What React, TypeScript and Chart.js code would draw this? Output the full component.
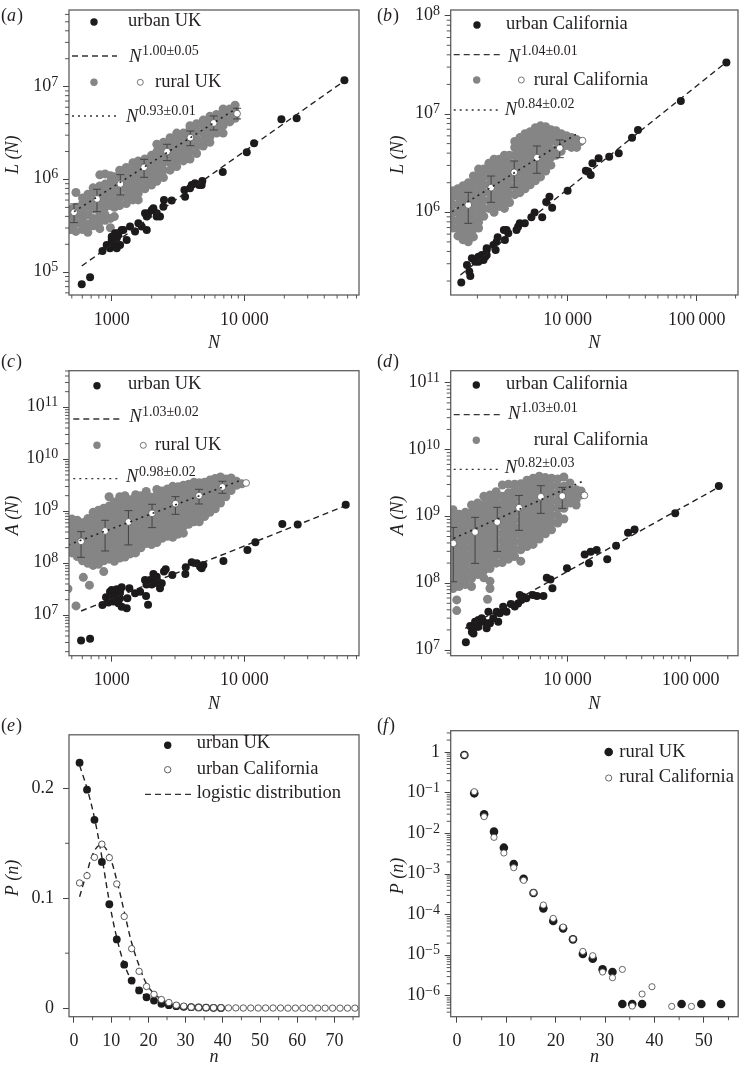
import React, { useEffect, useRef } from "react";
import { Chart, registerables } from "chart.js";

Chart.register(...registerables);

const SERIF = "'Liberation Serif', 'Times New Roman', serif";
const INK = "#231f20";
const GREY = "#858585";

// ---------- panel (a): L(N), UK. All N / L values are log10 of the value.
const aUrbanLogN = [2.774,2.837,2.93,2.962,2.987,3.0,3.025,3.05,3.013,3.038,3.063,3.075,3.113,3.138,3.176,3.201,3.226,3.264,3.251,3.276,3.314,3.339,3.364,3.389,3.394,3.452,3.553,3.548,3.59,3.628,3.678,3.683,3.837,4.018,4.073,4.279,4.394,4.754,3.043,3.025,3.088,3.0,3.038,3.302,3.264,3.339,3.603,3.658];
const aUrbanLogL = [4.871,4.946,5.23,5.294,5.259,5.384,5.42,5.402,5.33,5.366,5.294,5.456,5.348,5.492,5.438,5.528,5.492,5.456,5.636,5.636,5.689,5.636,5.6,5.707,5.779,5.772,5.815,5.887,5.905,5.959,5.941,5.984,6.081,6.293,6.39,6.648,6.659,7.068,5.42,5.28,5.456,5.348,5.26,5.67,5.6,5.6,5.941,5.941];
const aRural: [number, number[]][] = [
  [2.69,[5.46,5.52,5.60,5.68]],[2.73,[5.44,5.53,5.62,5.70,5.86]],[2.78,[5.46,5.5,5.58,5.66,5.74,5.8]],
  [2.82,[5.43,5.52,5.62,5.71,5.78,5.84]],[2.86,[5.50,5.58,5.68,5.76,5.85,5.91]],[2.91,[5.47,5.55,5.63,5.72,5.80,5.88,5.93,6.05]],
  [2.95,[5.56,5.62,5.70,5.78,5.86,5.95,6.06]],[2.99,[5.48,5.58,5.72,5.80,5.88,5.97,6.04]],[3.02,[5.60,5.7,5.78,5.87,5.95,6.03]],
  [3.06,[5.72,5.80,5.88,5.96,6.04,6.10]],[3.11,[5.74,5.82,5.9,5.98,6.06,6.13]],[3.16,[5.78,5.86,5.94,6.02,6.1,6.18]],
  [3.2,[5.78,5.85,5.93,6.01,6.09,6.17,6.2]],[3.25,[5.9,5.98,6.06,6.14,6.22]],[3.3,[5.94,6.02,6.1,6.18,6.26]],
  [3.34,[5.98,6.06,6.14,6.22,6.3,6.38]],[3.39,[6.02,6.1,6.18,6.26,6.34,6.4]],[3.44,[6.1,6.18,6.26,6.34,6.42,6.45]],
  [3.49,[6.14,6.22,6.3,6.38,6.46,6.5]],[3.54,[6.2,6.26,6.34,6.42,6.5]],[3.59,[6.22,6.3,6.38,6.46,6.54,6.58]],
  [3.64,[6.28,6.36,6.44,6.52,6.6]],[3.69,[6.36,6.42,6.5,6.58,6.64]],[3.74,[6.4,6.46,6.54,6.62,6.68]],
  [3.79,[6.5,6.55,6.62,6.7]],[3.84,[6.5,6.58,6.65,6.72,6.76]],[3.89,[6.62,6.7,6.76]],[3.93,[6.66,6.73,6.8]],
];
const aMeanLogN = [2.716,2.889,3.065,3.244,3.417,3.593,3.769,3.945];
const aMeanLogL = [5.646,5.79,5.952,6.131,6.3,6.451,6.609,6.709];
const aErrLow = [5.535,5.653,5.833,6.023,6.203,6.364,6.533,6.652];
const aErrHigh = [5.736,5.894,6.052,6.217,6.379,6.522,6.684,6.767];
const aUrbanFit = { logN: [2.774,4.746], logY: [5.068,7.054] };
const aRuralFit = { logN: [2.716,3.942], logY: [5.653,6.767] };

// ---------- panel (b): L(N), California
const bUrbanLogN = [3.176,3.22,3.238,3.246,3.258,3.284,3.309,3.335,3.361,3.373,3.348,3.425,3.458,3.442,3.514,3.54,3.506,3.604,3.629,3.616,3.668,3.719,3.744,3.803,3.834,3.859,3.88,4.0,4.141,4.159,4.179,4.192,4.24,4.322,4.396,4.499,4.545,4.877,5.23,3.373,3.309,3.373,3.527,3.45];
const bUrbanLogL = [5.285,5.464,5.397,5.353,5.532,5.498,5.549,5.566,5.549,5.617,5.515,5.668,5.746,5.617,5.719,5.786,5.82,5.82,5.888,5.854,5.888,5.949,5.997,5.949,6.105,6.159,6.047,6.22,6.424,6.414,6.38,6.498,6.549,6.566,6.6,6.759,6.837,7.132,7.525,5.566,5.498,5.634,5.82,5.7];
const bRural: [number, number[]][] = [
  [3.11,[5.84,5.92,6.0,6.08,6.16,6.22]],[3.15,[5.76,5.84,5.92,6.0,6.08,6.16,6.24]],[3.19,[5.72,5.80,5.88,5.96,6.04,6.12,6.2,6.27]],
  [3.23,[5.70,5.78,5.86,5.94,6.02,6.1,6.18,6.26,6.3]],[3.27,[5.75,5.83,5.91,5.99,6.07,6.15,6.23,6.31,6.37]],[3.31,[5.84,5.9,5.98,6.06,6.14,6.22,6.3,6.38,6.44]],
  [3.35,[5.96,6.04,6.12,6.2,6.28,6.36,6.44]],[3.39,[6.04,6.12,6.2,6.28,6.36,6.44,6.5]],[3.43,[6.0,6.08,6.16,6.24,6.32,6.4,6.48,6.54]],
  [3.47,[6.06,6.14,6.22,6.3,6.38,6.46,6.54]],[3.51,[6.04,6.12,6.2,6.28,6.36,6.44,6.52,6.58]],[3.55,[6.1,6.18,6.26,6.34,6.42,6.5,6.58]],
  [3.59,[6.18,6.26,6.34,6.42,6.5,6.58,6.66,6.72]],[3.63,[6.2,6.28,6.36,6.44,6.52,6.6,6.68,6.76]],[3.67,[6.24,6.32,6.4,6.48,6.56,6.64,6.72,6.8]],
  [3.71,[6.28,6.36,6.44,6.52,6.6,6.68,6.76,6.82]],[3.75,[6.32,6.4,6.48,6.56,6.64,6.72,6.8,6.86]],[3.79,[6.36,6.44,6.52,6.6,6.68,6.76,6.84,6.88]],
  [3.83,[6.42,6.5,6.58,6.66,6.74,6.82,6.87]],[3.87,[6.48,6.56,6.64,6.72,6.8,6.84]],[3.91,[6.58,6.64,6.72,6.78,6.83]],
  [3.95,[6.62,6.7,6.76,6.8]],[3.99,[6.68,6.74,6.78]],[4.03,[6.66,6.72,6.76]],[4.07,[6.66,6.74]],[4.1,[6.72]],
];
const bMeanLogN = [3.23,3.407,3.586,3.762,3.939,4.115];
const bMeanLogL = [6.075,6.251,6.407,6.556,6.654,6.729];
const bErrLow = [5.888,6.102,6.254,6.397,6.556];
const bErrHigh = [6.203,6.369,6.522,6.675,6.736];
const bUrbanFit = { logN: [3.169,5.228], logY: [5.363,7.525] };
const bRuralFit = { logN: [3.105,4.09], logY: [6.007,6.814] };

// ---------- panel (c): A(N), UK
const cUrbanLogN = [2.769,2.837,2.93,2.957,2.975,3,3.013,3.025,3.038,3.05,3.075,3.063,3.113,3.118,3.133,3.176,3.214,3.259,3.274,3.251,3.276,3.314,3.339,3.364,3.394,3.407,3.457,3.558,3.555,3.603,3.641,3.678,3.691,3.842,4.023,4.083,4.286,4.402,4.764,3.262,3.289,3.302,3.327,2.987,3.038,3.013,3.063,3.075,3.339,3.377,3.666];
const cUrbanLogA = [6.513,6.551,7.199,7.346,7.244,7.487,7.263,7.391,7.5,7.231,7.538,7.327,7.135,7.327,7.519,7.423,7.455,7.372,7.205,7.679,7.615,7.795,7.679,7.519,7.84,7.885,7.776,7.923,7.795,8.019,8.0,7.904,7.968,8.045,8.256,8.404,8.756,8.744,9.128,7.59,7.68,7.59,7.62,7.455,7.3,7.36,7.455,7.165,7.74,7.615,7.936];
const cRural: [number, number[]][] = [
  [2.67,[7.51]],[2.731,[7.18]],[2.786,[7.73]],[2.832,[7.58]],
  [2.70,[8.2,8.33,8.46,8.59,8.72,8.85]],[2.74,[8.13,8.26,8.39,8.52,8.65,8.78,8.83]],[2.78,[8.05,8.18,8.31,8.44,8.57,8.7,8.78]],
  [2.82,[8.0,8.13,8.26,8.39,8.52,8.65,8.78,8.86]],[2.86,[7.96,8.09,8.22,8.35,8.48,8.61,8.74,8.87,8.98]],[2.9,[7.98,8.11,8.24,8.37,8.5,8.63,8.76,8.89,9.02]],
  [2.94,[7.84,8.05,8.18,8.31,8.44,8.57,8.7,8.83,8.96,9.06]],[2.98,[8.08,8.21,8.34,8.47,8.6,8.73,8.86,8.99,9.1,9.28]],[3.02,[8.04,8.17,8.3,8.43,8.56,8.69,8.82,8.95,9.08,9.18]],
  [3.06,[8.1,8.23,8.36,8.49,8.62,8.75,8.88,9.01,9.14,9.28]],[3.1,[8.12,8.25,8.38,8.51,8.64,8.77,8.9,9.03,9.16,9.3]],[3.14,[8.18,8.31,8.44,8.57,8.7,8.83,8.96,9.09,9.22]],
  [3.18,[8.2,8.33,8.46,8.59,8.72,8.85,8.98,9.11,9.24,9.32]],[3.22,[8.3,8.43,8.56,8.69,8.82,8.95,9.08,9.21,9.3]],[3.26,[8.38,8.51,8.64,8.77,8.9,9.03,9.16,9.29,9.38]],
  [3.3,[8.36,8.49,8.62,8.75,8.88,9.01,9.14,9.27]],[3.34,[8.4,8.53,8.66,8.79,8.92,9.05,9.18,9.31,9.42]],[3.38,[8.48,8.61,8.74,8.87,9.0,9.13,9.26,9.39]],
  [3.42,[8.52,8.65,8.78,8.91,9.04,9.17,9.3,9.43]],[3.46,[8.5,8.63,8.76,8.89,9.02,9.15,9.28,9.41,9.48]],[3.5,[8.56,8.69,8.82,8.95,9.08,9.21,9.34,9.47]],
  [3.54,[8.58,8.71,8.84,8.97,9.1,9.23,9.36,9.5]],[3.58,[8.75,8.88,9.01,9.14,9.27,9.4,9.52]],[3.62,[8.8,8.93,9.06,9.19,9.32,9.45,9.56]],
  [3.66,[8.8,8.93,9.06,9.19,9.32,9.45,9.55]],[3.7,[8.9,9.03,9.16,9.29,9.42,9.56]],[3.74,[8.98,9.11,9.24,9.37,9.5,9.6]],
  [3.78,[9.05,9.18,9.31,9.44,9.57,9.63]],[3.82,[9.16,9.29,9.42,9.55,9.66]],[3.86,[9.28,9.41,9.54,9.62]],[3.9,[9.4,9.5,9.6,9.64]],[3.94,[9.5,9.58]],[3.98,[9.53]],
];
const cMeanLogN = [2.769,2.95,3.126,3.304,3.48,3.658,3.834,4.013];
const cMeanLogA = [8.423,8.622,8.795,8.962,9.147,9.301,9.468,9.545];
const cErrLow = [8.115,8.237,8.353,8.686,8.942,9.141,9.346];
const cErrHigh = [8.609,8.827,9.013,9.135,9.282,9.423,9.577];
const cUrbanFit = { logN: [2.769,4.746], logY: [7.083,9.09] };
const cRuralFit = { logN: [2.673,3.98], logY: [8.353,9.603] };

// ---------- panel (d): A(N), California
const dUrbanLogN = [3.174,3.236,3.209,3.249,3.276,3.303,3.276,3.343,3.357,3.37,3.424,3.437,3.477,3.504,3.539,3.598,3.611,3.638,3.665,3.718,3.751,3.804,3.831,3.861,3.877,3.995,4.139,4.174,4.188,4.236,4.322,4.394,4.491,4.544,4.874,5.228,3.223,3.263,3.316,3.357,3.223,3.397,3.45,3.625,3.571];
const dUrbanLogA = [7.115,7.249,7.359,7.424,7.449,7.474,7.349,7.324,7.574,7.399,7.574,7.424,7.648,7.574,7.688,7.698,7.823,7.798,7.773,7.823,7.808,7.808,8.082,8.057,7.923,8.222,8.431,8.297,8.471,8.496,8.357,8.561,8.756,8.805,9.045,9.454,7.35,7.35,7.424,7.4,7.27,7.474,7.55,7.75,7.65];
const dRural: [number, number[]][] = [
  [3.1,[7.75,7.59]],[3.35,[7.76]],[3.47,[9.47]],
  [3.07,[7.92,8.03,8.14,8.25,8.36,8.47,8.58,8.69,8.8,8.91,9.02,9.1]],[3.12,[7.95,8.06,8.17,8.28,8.39,8.5,8.61,8.72,8.83,8.94,9.03]],[3.17,[7.98,8.09,8.2,8.31,8.42,8.53,8.64,8.75,8.86,8.97,9.06]],
  [3.22,[7.95,8.07,8.18,8.29,8.4,8.51,8.62,8.73,8.84,8.95,9.06,9.17]],[3.27,[8.13,8.24,8.35,8.46,8.57,8.68,8.79,8.9,9.01,9.12,9.2]],[3.32,[8.08,8.19,8.3,8.41,8.52,8.63,8.74,8.85,8.96,9.07,9.18,9.3]],
  [3.37,[7.92,8.03,8.22,8.33,8.44,8.55,8.66,8.77,8.88,8.99,9.1,9.21,9.32]],[3.42,[8.3,8.41,8.52,8.63,8.74,8.85,8.96,9.07,9.18,9.29,9.37]],[3.47,[8.31,8.42,8.53,8.64,8.75,8.86,8.97,9.08,9.19,9.3]],
  [3.52,[8.36,8.47,8.58,8.69,8.8,8.91,9.02,9.13,9.24,9.35,9.48]],[3.57,[8.4,8.51,8.62,8.73,8.84,8.95,9.06,9.17,9.28,9.39,9.48]],[3.62,[8.33,8.5,8.61,8.72,8.83,8.94,9.05,9.16,9.27,9.38,9.49]],
  [3.67,[8.55,8.66,8.77,8.88,8.99,9.1,9.21,9.32,9.43,9.54]],[3.72,[8.58,8.69,8.8,8.91,9.02,9.13,9.24,9.35,9.46,9.57]],[3.77,[8.66,8.77,8.88,8.99,9.1,9.21,9.32,9.43,9.54,9.6]],
  [3.82,[8.74,8.85,8.96,9.07,9.18,9.29,9.4,9.51,9.58]],[3.87,[8.8,8.91,9.02,9.13,9.24,9.35,9.46,9.57]],[3.92,[8.9,9.01,9.12,9.23,9.34,9.45,9.56]],
  [3.97,[8.96,9.12,9.23,9.34,9.45,9.59]],[4.02,[9.2,9.3,9.4,9.5]],[4.07,[9.17,9.25,9.33,9.4]],[4.11,[9.32,9.38]],
];
const dMeanLogN = [3.072,3.249,3.429,3.606,3.783,3.957,4.137];
const dMeanLogA = [8.596,8.766,8.915,9.13,9.294,9.304,9.314];
const dErrLow = [8.022,8.297,8.476,8.791,9.045,9.12];
const dErrHigh = [8.835,8.985,9.135,9.314,9.459,9.434];
const dUrbanFit = { logN: [3.169,5.22], logY: [7.324,9.429] };
const dRuralFit = { logN: [3.075,4.134], logY: [8.671,9.534] };

// ---------- panel (e): P(n), urban
const eUkN = [1.5,3.5,5.5,7.5,9.5,11.5,13.5,15.5,17.5,19.5,21.5,23.5,25.5,27.5,29.5,31.5,33.5,35.5,37.5,39.5];
const eUkP = [.2233,.1988,.1713,.133,.0945,.0625,.0395,.0251,.0161,.0099,.0069,.0039,.0027,.0018,.0012,.0009,.0006,.0005,.0003,.0002];
const eCaN = [1.5,3.5,5.5,7.5,9.5,11.5,13.5,15.5,17.5,19.5,21.5,23.5,25.5,27.5,29.5,31.5,33.5,35.5,37.5,39.5,41.5,43.5,45.5,47.5,49.5,51.5,53.5,55.5,57.5,59.5,61.5,63.5,65.5,67.5,69.5,71.5,73.5,75.5];
const eCaP = [.1139,.1205,.1372,.1492,.1369,.113,.0834,.0541,.0335,.0197,.0126,.0078,.0051,.0027,.0018,.0009,.0006,.0005,.0003,.0003,.0002,.0002,.0001,.0001,.0001,.0001,.0001,.0001,0,0,0,0,0,0,0,0,0,0];
const eUkFitN = [1.5,3.5,5.5,7.5,9.5,11.5,13.5,15.5,17.5,19.5,21.5,23.5];
const eUkFitP = [.2209,.2,.1731,.1372,.0969,.064,.0401,.0251,.0161,.0102,.0063,.0036];
const eCaFitN = [1.5,3.5,5.5,7.5,9.5,11.5,13.5,15.5,17.5,19.5,21.5,23.5,25.5];
const eCaFitP = [.1013,.1238,.1432,.1486,.1387,.1163,.0879,.0595,.0386,.0221,.0132,.0081,.0045];

// ---------- panel (f): P(n), rural (log10 P)
const fUkN = [1.5,3.5,5.5,7.5,9.5,11.5,13.5,15.5,17.5,19.5,21.5,23.5,25.5,27.5,29.5,31.5,33.5,35.5,37.5,45.5,49.5,53.5];
const fUkLogP = [-.066,-1.01,-1.527,-1.954,-2.348,-2.75,-3.112,-3.465,-3.842,-4.154,-4.335,-4.606,-4.967,-5.082,-5.345,-5.41,-6.199,-6.199,-6.199,-6.199,-6.199,-6.199];
const fCaN = [1.5,3.5,5.5,7.5,9.5,11.5,13.5,15.5,17.5,19.5,21.5,23.5,25.5,27.5,29.5,31.5,33.5,35.5,37.5,39.5,43.5,47.5];
const fCaLogP = [-.066,-.969,-1.585,-2.094,-2.479,-2.841,-3.153,-3.456,-3.76,-4.089,-4.302,-4.598,-4.901,-5.008,-5.41,-5.55,-5.345,-6.248,-5.952,-5.772,-6.256,-6.256];

// ---------- tick labels
const aYDecades = [5, 6, 7];
const bYDecades = [6, 7, 8];
const cYDecades = [7, 8, 9, 10, 11];
const dYDecades = [7, 8, 9, 10, 11];
const fYDecades = [0, -1, -2, -3, -4, -5, -6];
const ukXTicks = [1000, 10000];
const caXTicks = [10000, 100000];
const eXTicks = [0, 10, 20, 30, 40, 50, 60, 70];
const eXMinor = [5, 15, 25, 35, 45, 55, 65, 75];
const eYTicks = [0, 0.1, 0.2];
const eYMinor = [0.05, 0.15];
const fXTicks = [0, 10, 20, 30, 40, 50];
const fXMinor = [5, 15, 25, 35, 45, 55];
const groupThousands = (v: number) => String(v).length > 4 ? String(v).replace(/\B(?=(\d{3})+$)/g, "\u2009") : String(v);

const minorLog = (lo: number, hi: number) => {
  const out: number[] = [];
  for (let d = Math.floor(lo); d <= Math.ceil(hi); d++) for (let m = 2; m < 10; m++) {
    const lg = d + Math.log10(m);
    if (lg > lo && lg < hi) out.push(10 ** lg);
  }
  return out;
};

// ---------- helpers turning value lists into Chart.js datasets
const pairs = (lx: number[], ly: number[]) => lx.map((x, i) => ({ x: 10 ** x, y: 10 ** ly[i] }));
const cloud = (rows: [number, number[]][]) => rows.flatMap(([x, ys]) => ys.map((y) => ({ x: 10 ** x, y: 10 ** y })));
const errs = (lx: number[], lo: number[], hi: number[]) =>
  lo.flatMap((l, i) => [{ x: 10 ** lx[i], y: 10 ** l }, { x: 10 ** lx[i], y: 10 ** hi[i] }, { x: 10 ** lx[i], y: NaN }]);

const scatterPanelDatasets = (urban: any[], rural: any[], means: any[], bars: any[], uFit: any, rFit: any) => [
  { label: "rural", data: rural, pointRadius: 4.5, pointBackgroundColor: GREY, pointBorderWidth: 0, order: 9 },
  { label: "error", data: bars, showLine: true, spanGaps: false, borderColor: "#444", borderWidth: 1, pointStyle: "line", pointRadius: 4, pointBorderColor: "#444", pointBorderWidth: 1, order: 8 },
  { label: "mean", data: means, pointRadius: 3.4, pointBackgroundColor: "#fff", pointBorderColor: "#555", pointBorderWidth: 0.8, order: 7 },
  { label: "urban", data: urban, pointRadius: 4, pointBackgroundColor: "#1c1a1b", pointBorderWidth: 0, order: 6 },
  { label: "rural fit", data: pairs(rFit.logN, rFit.logY), showLine: true, borderColor: "#222", borderWidth: 1.6, borderDash: [2, 4], pointRadius: 0, order: 2 },
  { label: "urban fit", data: pairs(uFit.logN, uFit.logY), showLine: true, borderColor: "#222", borderWidth: 1.4, borderDash: [6, 4], pointRadius: 0, order: 3 },
];

type Item =
  | { t: "dot"; x: number; y: number; r: number; fill: string; stroke?: string }
  | { t: "rule"; x0: number; x1: number; y: number; dash: number[] }
  | { t: "text"; x: number; y: number; s: string }
  | { t: "power"; x: number; y: number; s: string; ex: number; ey: number }
  | { t: "tag"; x: number; y: number; s: string };

interface Panel {
  frame: { left: number; top: number; right: number; bottom: number };
  canvas: { left: number; top: number; width: number; height: number };
  xType: string; yType: string;
  xRange: [number, number]; yRange: [number, number];
  xTicks: number[]; yTicks: number[];
  xFmt: (v: number) => string; yFmt: (v: number) => string;
  powerY: boolean; yTickPad: number;
  xMinor: number[]; yMinor: number[];
  xTitle: string; yTitle: string; yTitlePad: number; xTitlePad: number;
  datasets: any[];
  items: Item[];
}

const logX = (a: number, b: number): [number, number] => [10 ** a, 10 ** b];

const panels: Panel[] = [
  {
    frame: { left: 69, top: 10, right: 359, bottom: 295 }, canvas: { left: 0, top: 0, width: 372, height: 350 },
    xType: "logarithmic", yType: "logarithmic", xRange: logX(2.678, 4.864), yRange: logX(4.755, 7.826),
    xTicks: ukXTicks, yTicks: aYDecades.map((d) => 10 ** d), xFmt: groupThousands, yFmt: String, powerY: true, yTickPad: 4,
    xMinor: minorLog(2.678, 4.864), yMinor: minorLog(4.755, 7.826), xTitle: "N", yTitle: "L (N) ", yTitlePad: 2, xTitlePad: -4.5,
    datasets: scatterPanelDatasets(pairs(aUrbanLogN, aUrbanLogL), cloud(aRural), pairs(aMeanLogN, aMeanLogL), errs(aMeanLogN, aErrLow, aErrHigh), aUrbanFit, aRuralFit),
    items: [
      { t: "tag", x: 1, y: 21, s: "a" },
      { t: "dot", x: 94, y: 22, r: 3.7, fill: "#1c1a1b" }, { t: "text", x: 128, y: 26, s: "urban UK" },
      { t: "rule", x0: 72, x1: 117, y: 56, dash: [6, 4] }, { t: "power", x: 129, y: 61.5, s: "1.00\u00B10.05", ex: 142, ey: 55 },
      { t: "dot", x: 94, y: 82.3, r: 3.7, fill: GREY }, { t: "dot", x: 140.3, y: 82.3, r: 3, fill: "#fff", stroke: "#555" }, { t: "text", x: 155, y: 87, s: "rural UK" },
      { t: "rule", x0: 72, x1: 117, y: 116, dash: [2, 4] }, { t: "power", x: 126, y: 122, s: "0.93\u00B10.01", ex: 139, ey: 115 },
    ],
  },
  {
    frame: { left: 450.7, top: 10, right: 740.7, bottom: 295 }, canvas: { left: 372, top: 0, width: 371, height: 350 },
    xType: "logarithmic", yType: "logarithmic", xRange: logX(3.094, 5.32), yRange: logX(5.159, 8.058),
    xTicks: caXTicks, yTicks: bYDecades.map((d) => 10 ** d), xFmt: groupThousands, yFmt: String, powerY: true, yTickPad: 4,
    xMinor: minorLog(3.094, 5.32), yMinor: minorLog(5.159, 8.058), xTitle: "N", yTitle: "L (N) ", yTitlePad: 15, xTitlePad: -4.5,
    datasets: scatterPanelDatasets(pairs(bUrbanLogN, bUrbanLogL), cloud(bRural), pairs(bMeanLogN, bMeanLogL), errs(bMeanLogN, bErrLow, bErrHigh), bUrbanFit, bRuralFit),
    items: [
      { t: "tag", x: 377, y: 21, s: "b" },
      { t: "dot", x: 477, y: 25, r: 3.7, fill: "#1c1a1b" }, { t: "text", x: 506, y: 29, s: "urban California" },
      { t: "rule", x0: 453.7, x1: 499.7, y: 54.7, dash: [6, 4] }, { t: "power", x: 508, y: 61.5, s: "1.04\u00B10.01", ex: 521, ey: 55 },
      { t: "dot", x: 476.7, y: 80, r: 3.7, fill: GREY }, { t: "dot", x: 521.3, y: 80, r: 3, fill: "#fff", stroke: "#555" }, { t: "text", x: 533.7, y: 85, s: "rural California" },
      { t: "rule", x0: 453.7, x1: 499.7, y: 110, dash: [2, 4] }, { t: "power", x: 504.7, y: 115, s: "0.84\u00B10.02", ex: 517.7, ey: 108 },
    ],
  },
  {
    frame: { left: 69, top: 370.7, right: 359, bottom: 655.7 }, canvas: { left: 0, top: 350, width: 372, height: 365 },
    xType: "logarithmic", yType: "logarithmic", xRange: logX(2.678, 4.864), yRange: logX(6.223, 11.704),
    xTicks: ukXTicks, yTicks: cYDecades.map((d) => 10 ** d), xFmt: groupThousands, yFmt: String, powerY: true, yTickPad: 4,
    xMinor: minorLog(2.678, 4.864), yMinor: minorLog(6.223, 11.704), xTitle: "N", yTitle: "A (N) ", yTitlePad: 2, xTitlePad: 0,
    datasets: scatterPanelDatasets(pairs(cUrbanLogN, cUrbanLogA), cloud(cRural), pairs(cMeanLogN, cMeanLogA), errs(cMeanLogN, cErrLow, cErrHigh), cUrbanFit, cRuralFit),
    items: [
      { t: "tag", x: 1, y: 367, s: "c" },
      { t: "dot", x: 97, y: 385.7, r: 3.7, fill: "#1c1a1b" }, { t: "text", x: 128, y: 389, s: "urban UK" },
      { t: "rule", x0: 73.3, x1: 120, y: 419, dash: [6, 4] }, { t: "power", x: 129.3, y: 422.3, s: "1.03\u00B10.02", ex: 142, ey: 415.7 },
      { t: "dot", x: 97, y: 445.3, r: 3.7, fill: GREY }, { t: "dot", x: 143.3, y: 445.3, r: 3, fill: "#fff", stroke: "#555" }, { t: "text", x: 155, y: 449.7, s: "rural UK" },
      { t: "rule", x0: 73.3, x1: 120, y: 478.7, dash: [2, 4] }, { t: "power", x: 126, y: 482.3, s: "0.98\u00B10.02", ex: 139, ey: 475.7 },
    ],
  },
  {
    frame: { left: 450.7, top: 370.7, right: 740.7, bottom: 655.7 }, canvas: { left: 372, top: 350, width: 371, height: 365 },
    xType: "logarithmic", yType: "logarithmic", xRange: logX(3.051, 5.384), yRange: logX(6.915, 11.18),
    xTicks: caXTicks, yTicks: dYDecades.map((d) => 10 ** d), xFmt: groupThousands, yFmt: String, powerY: true, yTickPad: 4,
    xMinor: minorLog(3.051, 5.384), yMinor: minorLog(6.915, 11.18), xTitle: "N", yTitle: "A (N) ", yTitlePad: 15, xTitlePad: 0,
    datasets: scatterPanelDatasets(pairs(dUrbanLogN, dUrbanLogA), cloud(dRural), pairs(dMeanLogN, dMeanLogA), errs(dMeanLogN, dErrLow, dErrHigh), dUrbanFit, dRuralFit),
    items: [
      { t: "tag", x: 377, y: 367, s: "d" },
      { t: "dot", x: 476.3, y: 385, r: 3.7, fill: "#1c1a1b" }, { t: "text", x: 506, y: 389, s: "urban California" },
      { t: "rule", x0: 453.7, x1: 499.7, y: 414.7, dash: [6, 4] }, { t: "power", x: 508, y: 419, s: "1.03\u00B10.01", ex: 521, ey: 412.3 },
      { t: "dot", x: 476.3, y: 440.3, r: 3.7, fill: GREY }, { t: "text", x: 533.7, y: 445, s: "rural California" },
      { t: "rule", x0: 453.7, x1: 499.7, y: 469.3, dash: [2, 4] }, { t: "power", x: 504.7, y: 473.3, s: "0.82\u00B10.03", ex: 517.7, ey: 466.7 },
    ],
  },
  {
    frame: { left: 69, top: 730.7, right: 359, bottom: 1016.7 }, canvas: { left: 0, top: 715, width: 372, height: 350 },
    xType: "linear", yType: "linear", xRange: [-1.34, 76.6], yRange: [-0.0078, 0.2487],
    xTicks: eXTicks, yTicks: eYTicks, xFmt: String, yFmt: String, powerY: false, yTickPad: 9,
    xMinor: eXMinor, yMinor: eYMinor, xTitle: "n", yTitle: "P (n) ", yTitlePad: 2, xTitlePad: -3,
    datasets: [
      { label: "urban UK", data: eUkN.map((x, i) => ({ x, y: eUkP[i] })), pointRadius: 3.9, pointBackgroundColor: "#1c1a1b", pointBorderWidth: 0, order: 8 },
      { label: "urban California", data: eCaN.map((x, i) => ({ x, y: eCaP[i] })), pointRadius: 3.2, pointBackgroundColor: "#fff", pointBorderColor: "#333", pointBorderWidth: 0.8, order: 7 },
      { label: "logistic UK", data: eUkFitN.map((x, i) => ({ x, y: eUkFitP[i] })), showLine: true, tension: 0.4, borderColor: "#222", borderWidth: 1.4, borderDash: [6, 4], pointRadius: 0, order: 9 },
      { label: "logistic California", data: eCaFitN.map((x, i) => ({ x, y: eCaFitP[i] })), showLine: true, tension: 0.4, borderColor: "#222", borderWidth: 1.4, borderDash: [6, 4], pointRadius: 0, order: 9 },
    ],
    items: [
      { t: "tag", x: 1, y: 730.5, s: "e" },
      { t: "dot", x: 167.7, y: 745.3, r: 3.7, fill: "#1c1a1b" }, { t: "text", x: 196.7, y: 748.3, s: "urban UK" },
      { t: "dot", x: 167.7, y: 769.7, r: 3.2, fill: "#fff", stroke: "#333" }, { t: "text", x: 196.7, y: 773.7, s: "urban California" },
      { t: "rule", x0: 145, x1: 191.7, y: 794.3, dash: [6, 4] }, { t: "text", x: 196.7, y: 798.3, s: "logistic distribution" },
    ],
  },
  {
    frame: { left: 450.7, top: 730.7, right: 740.7, bottom: 1016.7 }, canvas: { left: 372, top: 715, width: 371, height: 350 },
    xType: "linear", yType: "logarithmic", xRange: [-1.27, 56.97], yRange: logX(-6.51, 0.532),
    xTicks: fXTicks, yTicks: fYDecades.map((d) => 10 ** d), xFmt: String, yFmt: String, powerY: true, yTickPad: 4,
    xMinor: fXMinor, yMinor: minorLog(-6.51, 0.532), xTitle: "n", yTitle: "P (n) ", yTitlePad: 15, xTitlePad: -3,
    datasets: [
      { label: "rural UK", data: fUkN.map((x, i) => ({ x, y: 10 ** fUkLogP[i] })), pointRadius: 4.3, pointBackgroundColor: "#1c1a1b", pointBorderWidth: 0, order: 8 },
      { label: "rural California", data: fCaN.map((x, i) => ({ x, y: 10 ** fCaLogP[i] })), pointRadius: 3.1, pointBackgroundColor: "#fff", pointBorderColor: "#444", pointBorderWidth: 0.8, order: 7 },
    ],
    items: [
      { t: "tag", x: 377, y: 730.5, s: "f" },
      { t: "dot", x: 608.7, y: 752, r: 4.3, fill: "#1c1a1b" }, { t: "text", x: 619.3, y: 756.7, s: "rural UK" },
      { t: "dot", x: 608.7, y: 778, r: 3.1, fill: "#fff", stroke: "#444" }, { t: "text", x: 619.3, y: 782.3, s: "rural California" },
    ],
  },
];

// Frame, minor ticks, power-of-ten tick labels and the in-plot key of each panel.
const panelDecor = {
  id: "panelDecor",
  afterDraw(chart: any, _a: any, opts: any) {
    const p: Panel = opts.panel;
    const { ctx, chartArea: ca, scales } = chart;
    const ox = p.canvas.left, oy = p.canvas.top;
    ctx.save();
    ctx.strokeStyle = "#5f5f5f";
    ctx.lineWidth = 1.3;
    ctx.strokeRect(ca.left, ca.top, ca.right - ca.left, ca.bottom - ca.top);
    ctx.strokeStyle = "#444";
    ctx.lineWidth = 0.9;
    ctx.beginPath();
    p.xMinor.forEach((v) => { const px = scales.x.getPixelForValue(v); ctx.moveTo(px, ca.bottom); ctx.lineTo(px, ca.bottom + 3.5); });
    p.yMinor.forEach((v) => { const py = scales.y.getPixelForValue(v); ctx.moveTo(ca.left, py); ctx.lineTo(ca.left - 4, py); });
    ctx.stroke();
    ctx.fillStyle = INK;
    ctx.textBaseline = "alphabetic";
    ctx.textAlign = "left";
    if (p.powerY) {
      const rightEdge = ca.left - 10.7;
      for (const v of p.yTicks) {
        const py = scales.y.getPixelForValue(v);
        const e = Math.round(Math.log10(v));
        ctx.font = `18px ${SERIF}`;
        if (e === 0) {
          ctx.textAlign = "right";
          ctx.fillText("1", rightEdge, py + 5);
          ctx.textAlign = "left";
          continue;
        }
        const exp = String(e).replace("-", "\u2212");
        ctx.font = `14px ${SERIF}`;
        const ew = ctx.measureText(exp).width;
        ctx.fillText(exp, rightEdge - ew, py - 1);
        ctx.font = `18px ${SERIF}`;
        ctx.fillText("10", rightEdge - ew - 18, py + 4);
      }
    }
    for (const it of p.items) {
      if (it.t === "dot") {
        ctx.beginPath();
        ctx.arc(it.x - ox, it.y - oy, it.r, 0, Math.PI * 2);
        ctx.fillStyle = it.fill;
        ctx.fill();
        if (it.stroke) { ctx.strokeStyle = it.stroke; ctx.lineWidth = 0.8; ctx.stroke(); }
        ctx.fillStyle = INK;
      } else if (it.t === "rule") {
        ctx.save();
        ctx.setLineDash(it.dash);
        ctx.strokeStyle = "#333";
        ctx.lineWidth = 1.3;
        ctx.beginPath();
        ctx.moveTo(it.x0 - ox, it.y - oy);
        ctx.lineTo(it.x1 - ox, it.y - oy);
        ctx.stroke();
        ctx.restore();
      } else if (it.t === "text") {
        ctx.font = `18.5px ${SERIF}`;
        ctx.fillText(it.s, it.x - ox, it.y - oy);
      } else if (it.t === "power") {
        ctx.font = `italic 18.5px ${SERIF}`;
        ctx.fillText("N", it.x - ox, it.y - oy);
        ctx.font = `14px ${SERIF}`;
        ctx.fillText(it.s, it.ex - ox, it.ey - oy);
      } else {
        let x = it.x - ox;
        ctx.font = `18px ${SERIF}`;
        ctx.fillText("(", x, it.y - oy);
        x += ctx.measureText("(").width;
        ctx.font = `italic 18px ${SERIF}`;
        ctx.fillText(it.s, x, it.y - oy);
        x += ctx.measureText(it.s).width + 1;
        ctx.font = `18px ${SERIF}`;
        ctx.fillText(")", x, it.y - oy);
      }
    }
    ctx.restore();
  },
};

function PanelChart({ panel }: { panel: Panel }) {
  const ref = useRef<HTMLCanvasElement>(null);
  useEffect(() => {
    const { frame: f, canvas: c } = panel;
    const tickFont = { family: SERIF, size: 18 };
    const titleFont = { family: SERIF, size: 18, style: "italic" as const };
    const common = {
      grid: { drawOnChartArea: false, drawTicks: true, tickLength: 6, tickColor: "#444", tickWidth: 1 },
      border: { display: false },
    };
    const chart = new Chart(ref.current!, {
      type: "scatter",
      data: { datasets: panel.datasets },
      plugins: [panelDecor],
      options: {
        responsive: false,
        animation: false,
        events: [],
        layout: { padding: { left: 0, bottom: 0, top: f.top - c.top, right: c.left + c.width - f.right } },
        plugins: { legend: { display: false }, tooltip: { enabled: false }, panelDecor: { panel } } as any,
        scales: {
          x: {
            ...common,
            type: panel.xType as any,
            min: panel.xRange[0], max: panel.xRange[1],
            ticks: { color: INK, font: tickFont, padding: 8, autoSkip: false, maxRotation: 0, minRotation: 0, callback: (v: any) => panel.xFmt(Number(v)) },
            afterBuildTicks: (s: any) => { s.ticks = panel.xTicks.map((value) => ({ value, major: true })); },
            afterFit: (s: any) => { s.height = c.top + c.height - f.bottom; },
            title: { display: true, text: panel.xTitle, color: INK, font: titleFont, padding: { top: 0, bottom: panel.xTitlePad } },
          },
          y: {
            ...common,
            type: panel.yType as any,
            min: panel.yRange[0], max: panel.yRange[1],
            ticks: { display: !panel.powerY, color: INK, font: tickFont, padding: panel.yTickPad, autoSkip: false, callback: (v: any) => panel.yFmt(Number(v)) },
            afterBuildTicks: (s: any) => { s.ticks = panel.yTicks.map((value) => ({ value, major: true })); },
            afterFit: (s: any) => { s.width = f.left - c.left; },
            title: { display: true, text: panel.yTitle, color: INK, font: titleFont, padding: { top: panel.yTitlePad, bottom: 0 } },
          },
        },
      } as any,
    });
    return () => chart.destroy();
  }, [panel]);
  const c = panel.canvas;
  return <canvas ref={ref} width={c.width} height={c.height} style={{ position: "absolute", left: c.left, top: c.top, width: c.width, height: c.height }} />;
}

export default function App() {
  return (
    <div style={{ position: "absolute", left: 0, top: 0, width: 743, height: 1065, background: "#fff" }}>
      {panels.map((p, i) => <PanelChart key={i} panel={p} />)}
    </div>
  );
}
